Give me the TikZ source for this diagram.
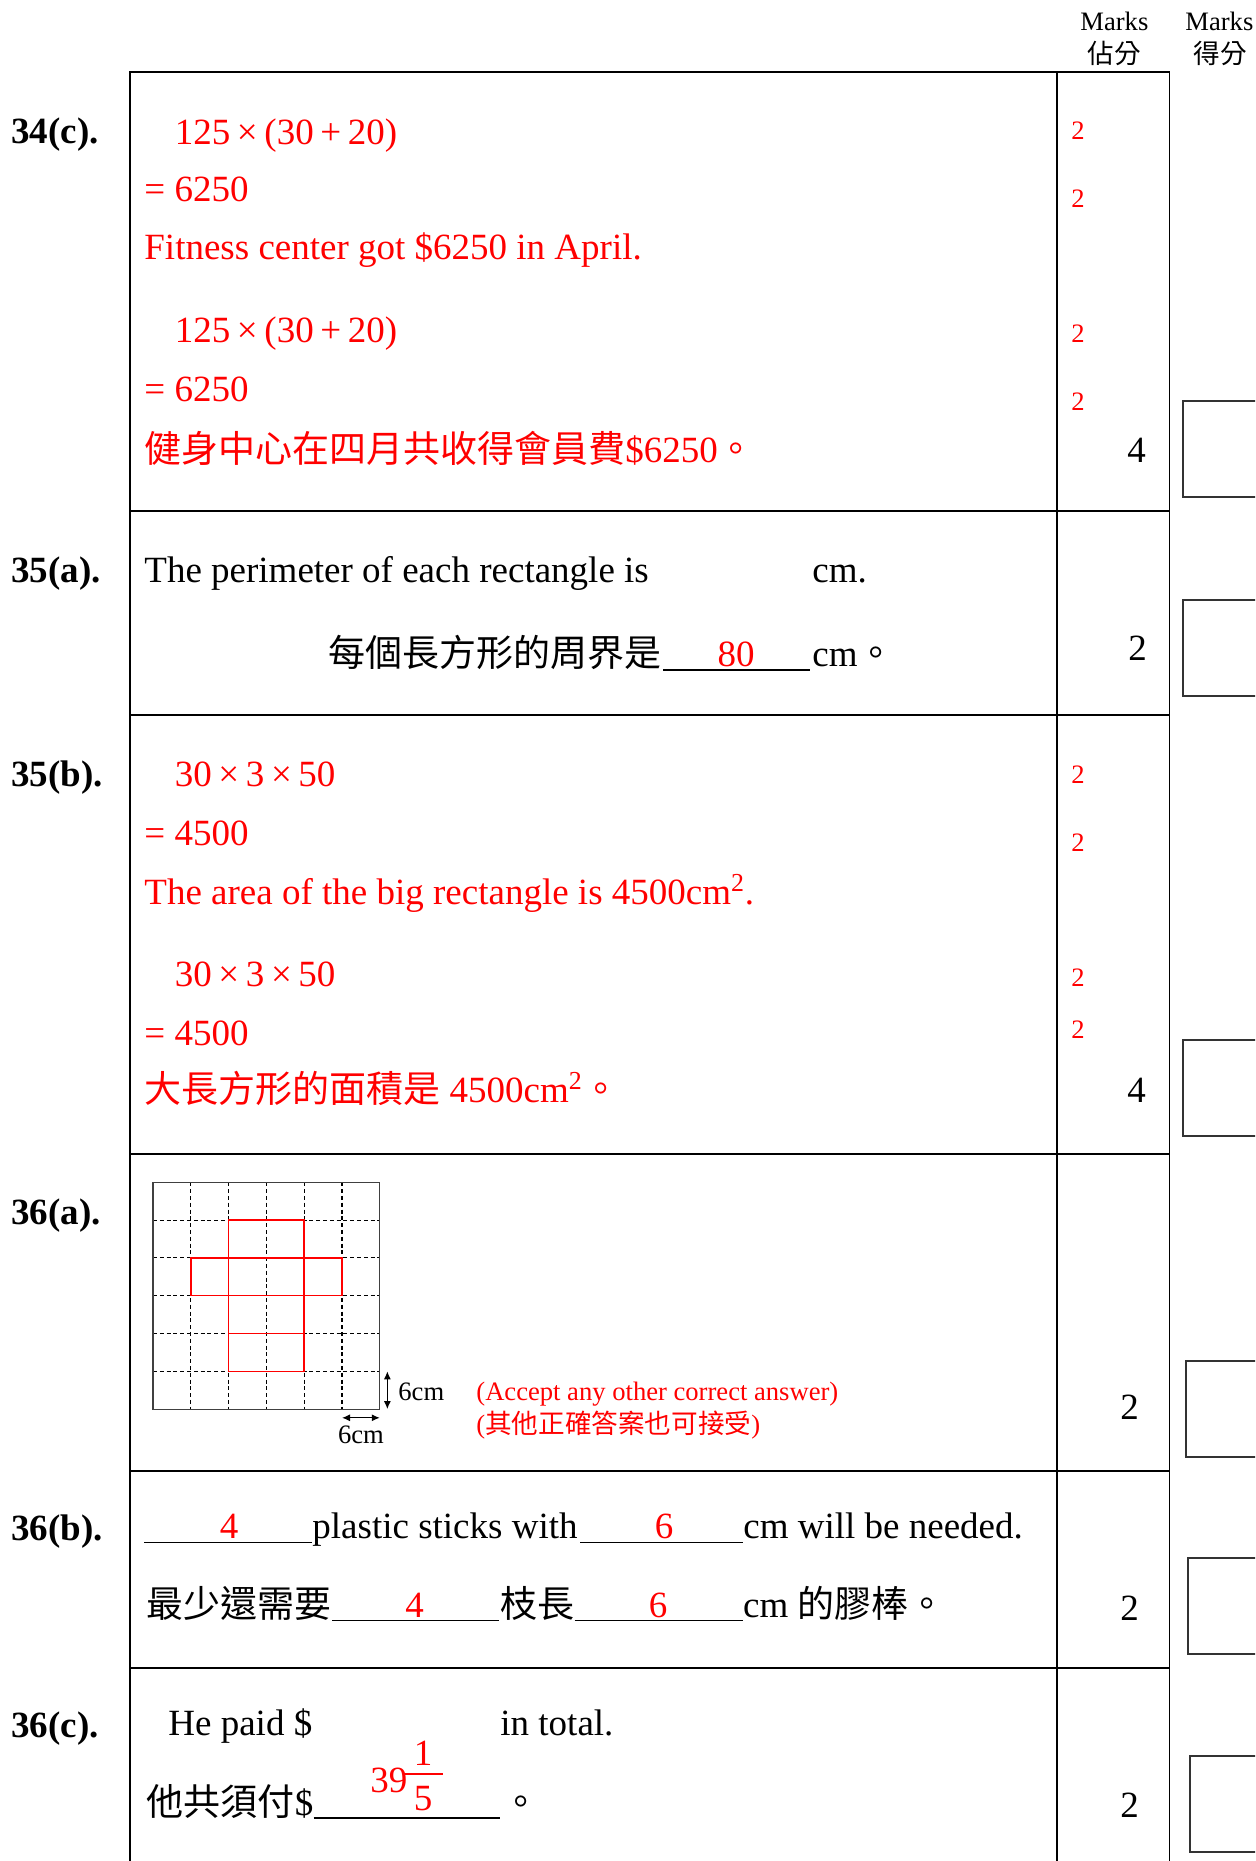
\documentclass[tikz,border=0pt]{standalone}
\usepackage{fontspec}
\setmainfont{Liberation Serif}
\newfontfamily\cjk{Noto Sans CJK TC}
\usetikzlibrary{arrows.meta}
\definecolor{ansred}{RGB}{255,0,0}
\newcommand\bigsz{\fontsize{18.5}{22}\selectfont}
\newcommand\smsz{\fontsize{13.3}{16}\selectfont}
\newcommand\tms{\makebox[0.92em]{×}}
\newcommand\pls{\makebox[0.92em]{+}}

\begin{document}
\begin{tikzpicture}[x=0.5pt,y=-0.5pt,>={Latex[length=4pt,width=3.5pt]},
  txt/.style={anchor=base west,inner sep=0pt,font=\bigsz},
  ans/.style={txt,text=ansred},
  qno/.style={txt,font=\bigsz\bfseries},
  mk/.style={anchor=base west,inner sep=0pt,font=\smsz,text=ansred},
  blank/.style={anchor=base,inner sep=0pt,font=\bigsz,text=ansred},
  rule/.style={line width=0.9pt},
  uline/.style={line width=0.7pt},
  scorebox/.style={draw=black!80,line width=1.1pt},
  griddash/.style={dash pattern=on 2pt off 1.4pt,line width=0.55pt},
  netred/.style={draw=ansred,line width=0.75pt}]
  \clip (0,0) rectangle (1255,1861);

  % header
  \node[txt,font=\smsz] (hm1) at (1080,30.7) {Marks};
  \node[txt,font=\smsz\cjk] (hc1) at (1087,64) {佔分};
  \node[txt,font=\smsz] (hm2) at (1185,30.7) {Marks};
  \node[txt,font=\smsz\cjk] (hc2) at (1193,64) {得分};

  % table
  \draw[rule] (130,1870) -- (130,71.7) -- (1169.5,71.7) -- (1169.5,1870);
  \draw[rule] (1056.7,71.7) -- (1056.7,1870);
  \foreach \y in {511,714.7,1154,1471,1667.7}
    \draw[rule] (130,\y) -- (1169.5,\y);
  \foreach \x/\y in {1183/401,1183/600,1183/1040,1186/1361,1188/1558,1190/1756}
    \draw[scorebox] (\x,\y) rectangle ++(90,96);

  % 34(c)
  \node[qno] (q34c) at (11,144) {34(c).};
  \node[ans] (c1) at (174.5,145) {125\tms(30\pls20)};
  \node[ans] (c2) at (144,202) {= 6250};
  \node[ans] (c3) at (144,260) {Fitness center got \$6250 in April.};
  \node[ans] (c4) at (174.5,343) {125\tms(30\pls20)};
  \node[ans] (c5) at (144,402) {= 6250};
  \node[ans] (c6) at (144,463) {{\cjk 健身中心在四月共收得會員費}\$6250{\cjk 。}};
  \foreach \y in {140,208,343,411}
    \node[mk] at (1071,\y) {2};
  \node[txt] (t34c) at (1127,463) {4};

  % 35(a)
  \node[qno] (q35a) at (11,582) {35(a).};
  \node[txt] (a1) at (144,582) {The perimeter of each rectangle is};
  \node[txt] (a2) at (812,582) {cm.};
  \node[txt] (a3) at (328,666) {\cjk 每個長方形的周界是};
  \draw[uline] (663,670) -- (810,670);
  \node[blank] (a4) at (736,666) {80};
  \node[txt] (a5) at (812,666) {cm{\cjk 。}};
  \node[txt] (t35a) at (1128,660) {2};

  % 35(b)
  \node[qno] (q35b) at (11,786) {35(b).};
  \node[ans] (b1) at (174.5,786) {30\tms3\tms50};
  \node[ans] (b2) at (144,845) {= 4500};
  \node[ans] (b3) at (144,904) {The area of the big rectangle is 4500cm\textsuperscript{2}.};
  \node[ans] (b4) at (174.5,986) {30\tms3\tms50};
  \node[ans] (b5) at (144,1045) {= 4500};
  \node[ans] (b6) at (144,1102) {{\cjk 大長方形的面積是} 4500cm\textsuperscript{2}{\cjk 。}};
  \foreach \y in {783,851,986,1038}
    \node[mk] at (1071,\y) {2};
  \node[txt] (t35b) at (1127,1102) {4};

  % 36(a)
  \node[qno] (q36a) at (11,1224) {36(a).};
  \begin{scope}[shift={(153,1182.3)},x=18.9pt,y=-18.9pt]
    \foreach \i in {1,...,5} {
      \draw[griddash] (\i,0) -- (\i,6);
      \draw[griddash] (0,\i) -- (6,\i);
    }
    \draw[black!75,line width=0.6pt] (0,0) rectangle (6,6);
    \draw[netred] (2,1) rectangle (4,5);
    \draw[netred] (1,2) rectangle (5,3);
    \draw[netred] (2,4) -- (4,4);
    \coordinate (vt) at (6.2,5);
    \coordinate (vb) at (6.2,6);
    \coordinate (hl) at (5,6.23);
    \coordinate (hr) at (6,6.23);
  \end{scope}
  \draw[<->,line width=0.6pt] (vt) -- (vb);
  \draw[<->,line width=0.6pt] (hl) -- (hr);
  \node[txt,font=\smsz] (dv) at (398,1400) {6cm};
  \node[txt,font=\smsz] (dh) at (337.7,1443.3) {6cm};
  \node[mk] (n1) at (476,1400) {(Accept any other correct answer)};
  \node[mk] (n2) at (476,1433) {({\cjk 其他正確答案也可接受})};
  \node[txt] (t36a) at (1120,1419) {2};

  % 36(b)
  \node[qno] (q36b) at (11,1540) {36(b).};
  \draw[uline] (144,1542.7) -- (312,1542.7);
  \node[blank] (s1) at (229,1538) {4};
  \node[txt] (s2) at (312,1538) {plastic sticks with};
  \draw[uline] (580,1542.7) -- (743,1542.7);
  \node[blank] (s3) at (664,1538) {6};
  \node[txt] (s4) at (743,1538) {cm will be needed.};
  \node[txt] (s5) at (146,1617) {\cjk 最少還需要};
  \draw[uline] (332,1620.7) -- (498.6,1620.7);
  \node[blank] (s6) at (414.6,1617) {4};
  \node[txt] (s7) at (500,1617) {\cjk 枝長};
  \draw[uline] (574.7,1620.7) -- (742.8,1620.7);
  \node[blank] (s8) at (658,1617) {6};
  \node[txt] (s9) at (742.8,1617) {cm {\cjk 的膠棒。}};
  \node[txt] (t36b) at (1120,1620) {2};

  % 36(c)
  \node[qno] (q36c) at (11,1737) {36(c).};
  \node[txt] (p1) at (168,1735) {He paid \$};
  \node[txt] (p2) at (500,1735) {in total.};
  \node[txt] (p3) at (146.5,1815) {{\cjk 他共須付}\$};
  \draw[uline] (313.7,1818) -- (500,1818);
  \node[ans] (p4) at (370,1792) {39};
  \node[blank] (p5) at (423,1765) {1};
  \node[blank] (p6) at (423,1810) {5};
  \draw[ansred,line width=0.8pt] (404,1774) -- (442.6,1774);
  \node[txt] (p7) at (502,1815) {\cjk 。};
  \node[txt] (t36c) at (1120,1817) {2};
\end{tikzpicture}
\end{document}
